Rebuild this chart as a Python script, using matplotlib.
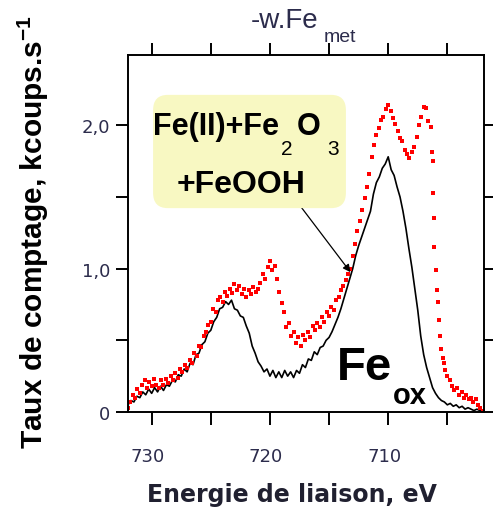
import matplotlib
matplotlib.use('Agg')
import matplotlib.pyplot as plt
from matplotlib.patches import FancyBboxPatch
from matplotlib.ticker import FixedLocator, FixedFormatter
import matplotlib.transforms as mtransforms

#----------------------------------------------------------
# Donnees
#----------------------------------------------------------
# Fe(II)+Fe2O3+FeOOH : trait noir
e_noir = [732.00, 731.75, 731.50, 731.25, 731.00, 730.75, 730.50, 730.25,
          730.00, 729.75, 729.50, 729.25, 729.00, 728.75, 728.50, 728.25,
          728.00, 727.75, 727.50, 727.25, 727.00, 726.75, 726.50, 726.25,
          726.00, 725.75, 725.50, 725.25, 725.00, 724.75, 724.50, 724.25,
          724.00, 723.75, 723.50, 723.25, 723.00, 722.75, 722.50, 722.25,
          722.00, 721.75, 721.50, 721.25, 721.00, 720.75, 720.50, 720.25,
          720.00, 719.75, 719.50, 719.25, 719.00, 718.75, 718.50, 718.25,
          718.00, 717.75, 717.50, 717.25, 717.00, 716.75, 716.50, 716.25,
          716.00, 715.75, 715.50, 715.25, 715.00, 714.75, 714.50, 714.25,
          714.00, 713.75, 713.50, 713.25, 713.00, 712.75, 712.50, 712.25,
          712.00, 711.75, 711.50, 711.25, 711.00, 710.75, 710.50, 710.25,
          710.00, 709.75, 709.50, 709.25, 709.00, 708.75, 708.50, 708.25,
          708.00, 707.75, 707.50, 707.25, 707.00, 706.75, 706.50, 706.25,
          706.00, 705.75, 705.50, 705.25, 705.00, 704.75, 704.50, 704.25,
          704.00, 703.75, 703.50, 703.25, 703.00, 702.75, 702.50, 702.25,
          702.00]
i_noir = [0.05, 0.08, 0.07, 0.11, 0.10, 0.14, 0.12, 0.16,
          0.13, 0.17, 0.14, 0.18, 0.15, 0.19, 0.18, 0.22,
          0.21, 0.26, 0.25, 0.30, 0.28, 0.34, 0.33, 0.40,
          0.41, 0.47, 0.49, 0.55, 0.57, 0.63, 0.66, 0.72,
          0.73, 0.77, 0.75, 0.78, 0.72, 0.71, 0.67, 0.66,
          0.60, 0.55, 0.46, 0.41, 0.35, 0.32, 0.28, 0.30,
          0.25, 0.29, 0.24, 0.28, 0.24, 0.29, 0.25, 0.28,
          0.24, 0.29, 0.27, 0.33, 0.31, 0.37, 0.36, 0.42,
          0.40, 0.45, 0.46, 0.50, 0.52, 0.56, 0.61, 0.66,
          0.72, 0.79, 0.86, 0.93, 1.00, 1.09, 1.16, 1.22,
          1.28, 1.34, 1.40, 1.52, 1.60, 1.64, 1.70, 1.73,
          1.78, 1.69, 1.65, 1.57, 1.50, 1.40, 1.28, 1.14,
          1.01, 0.86, 0.71, 0.53, 0.40, 0.31, 0.24, 0.17,
          0.13, 0.10, 0.08, 0.07, 0.05, 0.06, 0.04, 0.05,
          0.03, 0.04, 0.02, 0.03, 0.02, 0.01, 0.02, 0.01,
          0.00]

# Fe oxyde : points rouges
e_rouge = [732.0, 731.8, 731.6, 731.4, 731.2, 731.0, 730.8, 730.6, 730.4, 730.2,
           730.0, 729.8, 729.6, 729.4, 729.2, 729.0, 728.8, 728.6, 728.4, 728.2,
           728.0, 727.8, 727.6, 727.4, 727.2, 727.0, 726.8, 726.6, 726.4, 726.2,
           726.0, 725.8, 725.6, 725.4, 725.2, 725.0, 724.8, 724.6, 724.4, 724.2,
           724.0, 723.8, 723.6, 723.4, 723.2, 723.0, 722.8, 722.6, 722.4, 722.2,
           722.0, 721.8, 721.6, 721.4, 721.2, 721.0, 720.8, 720.6, 720.4, 720.2,
           720.0, 719.8, 719.6, 719.4, 719.2, 719.0, 718.8, 718.6, 718.4, 718.2,
           718.0, 717.8, 717.6, 717.4, 717.2, 717.0, 716.8, 716.6, 716.4, 716.2,
           716.0, 715.8, 715.6, 715.4, 715.2, 715.0, 714.8, 714.6, 714.4, 714.2,
           714.0, 713.8, 713.6, 713.4, 713.2, 713.0, 712.8, 712.6, 712.4, 712.2,
           712.0, 711.8, 711.6, 711.4, 711.2, 711.0, 710.8, 710.6, 710.4, 710.2,
           710.0, 709.8, 709.6, 709.4, 709.2, 709.0, 708.8, 708.6, 708.4, 708.2,
           708.0, 707.8, 707.6, 707.4, 707.2, 707.0, 706.8, 706.6, 706.4, 706.3,
           706.25, 706.2, 706.15, 706.1, 706.0, 705.9, 705.8, 705.7, 705.6, 705.5,
           705.4, 705.3, 705.2, 705.0, 704.8, 704.6, 704.4, 704.2, 704.0, 703.8,
           703.6, 703.4, 703.2, 703.0, 702.8, 702.6, 702.4, 702.2, 702.0]
i_rouge = [0.03, 0.07, 0.12, 0.10, 0.16, 0.13, 0.19, 0.22, 0.17, 0.21,
           0.18, 0.23, 0.19, 0.17, 0.22, 0.19, 0.23, 0.20, 0.25, 0.22,
           0.27, 0.24, 0.30, 0.28, 0.33, 0.31, 0.36, 0.34, 0.41, 0.39,
           0.46, 0.45, 0.53, 0.56, 0.61, 0.63, 0.72, 0.70, 0.78, 0.80,
           0.77, 0.84, 0.81, 0.86, 0.83, 0.89, 0.85, 0.88, 0.82, 0.86,
           0.80, 0.85, 0.82, 0.87, 0.84, 0.86, 0.90, 0.96, 0.93, 1.01,
           1.05, 0.99, 1.02, 0.93, 0.84, 0.76, 0.70, 0.59, 0.62, 0.53,
           0.56, 0.48, 0.52, 0.46, 0.54, 0.50, 0.56, 0.52, 0.60, 0.57,
           0.62, 0.59, 0.66, 0.63, 0.70, 0.67, 0.73, 0.71, 0.78, 0.80,
           0.85, 0.88, 0.92, 0.96, 1.00, 1.09, 1.17, 1.26, 1.33, 1.41,
           1.49, 1.57, 1.66, 1.78, 1.86, 1.93, 1.98, 2.04, 2.06, 2.11,
           2.14, 2.10, 2.05, 2.01, 1.96, 1.91, 1.89, 1.83, 1.80, 1.77,
           1.81, 1.85, 1.92, 2.00, 2.06, 2.13, 2.12, 2.03, 1.99, 1.81,
           1.75, 1.53, 1.35, 1.15, 0.99, 0.85, 0.77, 0.64, 0.53, 0.44,
           0.38, 0.34, 0.29, 0.25, 0.22, 0.18, 0.15, 0.17, 0.12, 0.14,
           0.10, 0.12, 0.09, 0.10, 0.07, 0.09, 0.05, 0.03, 0.01]

xticks = [730, 725, 720, 715, 710, 705]
xticklab = ['730', '', '720', '', '710', '']
yticks = [0, 0.5, 1.0, 1.5, 2.0]
yticklab = ['0', '', '1,0', '', '2,0']

#----------------------------------------------------------
# Figure
#----------------------------------------------------------
coul_txt = '#2c2c4c'
W = 493.
H = 510.
fig = plt.figure(figsize=(4.93, 5.10), dpi=100)
ax = fig.add_axes([128/W, 1-413/H, (484-128)/W, (413-56)/H])

ax.plot(e_noir, i_noir, color='black', linewidth=1.2)
ax.plot(e_rouge, i_rouge, linestyle='none', marker='s', markersize=3.0,
        markeredgewidth=0, color='#ff0000')

ax.set_xlim(732.0, 701.9)
ax.set_ylim(0, 2.49)

ax.xaxis.set_major_locator(FixedLocator(xticks))
ax.xaxis.set_major_formatter(FixedFormatter(xticklab))
ax.yaxis.set_major_locator(FixedLocator(yticks))
ax.yaxis.set_major_formatter(FixedFormatter(yticklab))
ax.tick_params(direction='out', length=9, width=1.4, top=True, right=True,
               labelsize=13, colors='black', labelcolor=coul_txt)
ax.tick_params(axis='x', pad=16)
ax.tick_params(axis='y', pad=4)
for lab in ax.get_xticklabels():
        lab.set_family('DejaVu Sans')
        lab.set_transform(lab.get_transform() + mtransforms.ScaledTranslation(-4/100, 0, fig.dpi_scale_trans))
for lab in ax.get_yticklabels():
        lab.set_family('DejaVu Sans')
for s in ax.spines.values():
        s.set_linewidth(1.4)

# titres des axes
fig.text(292/W, 1-502/H, 'Energie de liaison, eV', family='DejaVu Sans',
         fontweight='bold', fontsize=17, ha='center', va='baseline', color='#202030')
fig.text(15/W, 1-232/H, 'Taux de comptage, kcoups.s$^{\\mathregular{-1}}$',
         family='Liberation Sans', fontweight='bold', fontsize=21.5,
         rotation=90, ha='left', va='center', color='black')
fig.text(251/W, 1-28/H, '-w.Fe', family='Liberation Sans', fontsize=20,
         ha='left', va='baseline', color=coul_txt)
fig.text(324/W, 1-42/H, 'met', family='Liberation Sans', fontsize=14,
         ha='left', va='baseline', color=coul_txt)

# cadre jaune + texte
boite = FancyBboxPatch((160/W, 1-202/H), (339-160)/W, (202-103)/H,
                       boxstyle='round,pad=0.014,rounding_size=0.03',
                       transform=fig.transFigure, facecolor='#f8f8c2',
                       edgecolor='none', zorder=3)
fig.patches.append(boite)
fig.text(153/W, 1-135/H, 'Fe(II)+Fe', family='Liberation Sans', fontweight='bold',
         fontsize=22, ha='left', va='baseline', zorder=4)
fig.text(281/W, 1-155/H, '2', family='Liberation Sans', fontsize=15,
         ha='left', va='baseline', zorder=4)
fig.text(297/W, 1-135/H, 'O', family='Liberation Sans', fontweight='bold',
         fontsize=22, ha='left', va='baseline', zorder=4)
fig.text(327/W, 1-155/H, '3', family='Liberation Sans', fontsize=15,
         ha='left', va='baseline', zorder=4)
fig.text(241/W, 1-193/H, '+FeOOH', family='Liberation Sans',
         fontweight='bold', fontsize=23, ha='center', va='baseline', zorder=4)

ax.annotate('', xy=(713.05, 0.96), xytext=(717.46, 1.44),
            arrowprops=dict(arrowstyle='-|>', color='black', lw=0.9,
                            mutation_scale=11))

ax.text(714.3, 0.23, 'Fe', family='Liberation Sans', fontweight='bold',
        fontsize=34, ha='left', va='baseline')
ax.text(709.6, 0.063, 'ox', family='Liberation Sans', fontweight='bold',
        fontsize=21, ha='left', va='baseline')

plt.savefig('out.png', dpi=100)
plt.close('all')
